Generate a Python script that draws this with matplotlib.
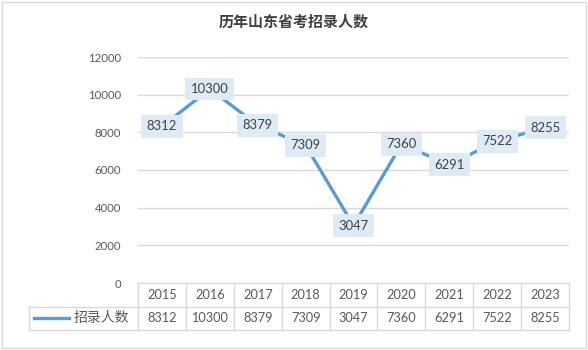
import matplotlib
matplotlib.use("Agg")
import matplotlib.pyplot as plt
from matplotlib.patches import Rectangle
from matplotlib.lines import Line2D

years = ["2015", "2016", "2017", "2018", "2019", "2020", "2021", "2022", "2023"]
hires = [8312, 10300, 8379, 7309, 3047, 7360, 6291, 7522, 8255]
series_name = "招录人数"
title = "历年山东省考招录人数"
y_ticks = [0, 2000, 4000, 6000, 8000, 10000, 12000]

LINE = "#5b9bd5"
GRID = "#d9d9d9"
TXT = "#595959"
LBL = "#404040"
BOX = "#deebf7"
NUM_FONT = ["Lato", "Noto Sans CJK SC"]
CJK_FONT = ["Noto Sans CJK SC", "DejaVu Sans"]

W, H = 588, 350
fig = plt.figure(figsize=(W / 100, H / 100), dpi=100)
fig.patch.set_facecolor("white")

# outer chart border
fig.add_artist(Rectangle((2 / W, 2 / H), (W - 4) / W, (H - 4) / H,
                         transform=fig.transFigure, fill=False,
                         edgecolor=GRID, linewidth=1.0))

L, R, T, B = 138, 569, 57, 283
ax = fig.add_axes([L / W, (H - B) / H, (R - L) / W, (B - T) / H])
n = len(years)
xs = list(range(n))
ax.set_xlim(-0.5, n - 0.5)
ax.set_ylim(y_ticks[0], y_ticks[-1])
for s in ax.spines.values():
    s.set_visible(False)
ax.set_xticks([])
ax.set_yticks(y_ticks)
ax.set_yticklabels([str(v) for v in y_ticks], fontsize=8.2, color=TXT,
                   family=NUM_FONT)
ax.tick_params(axis="y", length=0, pad=12)
for v in y_ticks[1:]:
    ax.axhline(v, color=GRID, linewidth=1.0, zorder=0)

ax.plot(xs, hires, color=LINE, linewidth=2.4, solid_capstyle="round", zorder=2,
        clip_on=False)
for x, v in zip(xs, hires):
    ax.text(x, v, str(v), ha="center", va="center", fontsize=9.4, color=LBL,
            family=NUM_FONT, zorder=3,
            bbox=dict(boxstyle="square,pad=0.42", facecolor=BOX,
                      edgecolor="none"))

fig.text(294 / W, 1 - 22 / H, title, ha="center", va="center",
         fontsize=10.8, fontweight="bold", color=LBL, family=CJK_FONT)

# data table below the axis
tb_top, tb_mid, tb_bot = 283, 307, 330
tax = fig.add_axes([L / W, (H - tb_bot) / H, (R - L) / W, (tb_bot - tb_top) / H])
tax.set_xlim(-0.5, n - 0.5)
tax.set_ylim(0, 2)
tax.axis("off")
lw = 1.0
leg_left = -0.5 - (L - 29) / ((R - L) / n)
tax.add_line(Line2D([-0.5, n - 0.5], [2, 2], color=GRID, lw=lw, clip_on=False))
tax.add_line(Line2D([leg_left, n - 0.5], [1, 1], color=GRID, lw=lw, clip_on=False))
tax.add_line(Line2D([leg_left, n - 0.5], [0, 0], color=GRID, lw=lw, clip_on=False))
tax.add_line(Line2D([leg_left, leg_left], [0, 1], color=GRID, lw=lw, clip_on=False))
for i in range(n + 1):
    tax.add_line(Line2D([i - 0.5, i - 0.5], [0, 2], color=GRID, lw=lw,
                        clip_on=False))
for x, yr, v in zip(xs, years, hires):
    tax.text(x, 1.5, yr, ha="center", va="center", fontsize=9.2, color=TXT,
             family=NUM_FONT)
    tax.text(x, 0.5, str(v), ha="center", va="center", fontsize=9.2, color=TXT,
             family=NUM_FONT)
col_px = (R - L) / n
def px2x(px):
    return -0.5 + (px - L) / col_px
tax.add_line(Line2D([px2x(34), px2x(69)], [0.5, 0.5], color=LINE, lw=2.4,
                    clip_on=False))
tax.text(px2x(74), 0.5, series_name, ha="left", va="center", fontsize=10,
         color=TXT, family=CJK_FONT)

fig.savefig("out.png", dpi=100, facecolor="white")
